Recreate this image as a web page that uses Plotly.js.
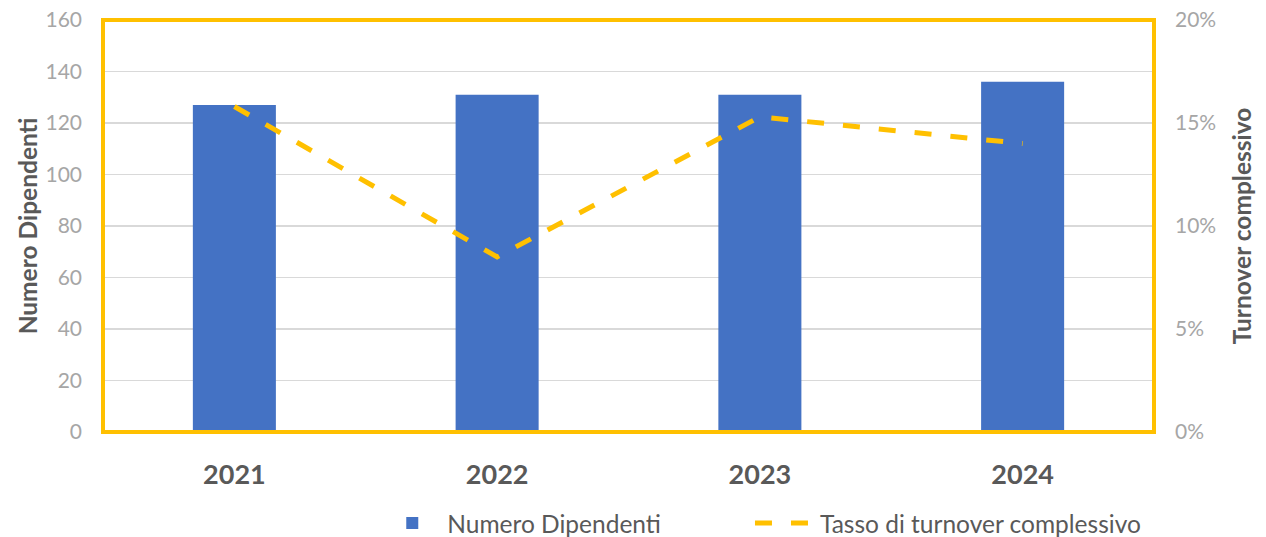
<!DOCTYPE html>
<html>
<head>
<meta charset="utf-8">
<script src="https://cdn.plot.ly/plotly-3.0.1.min.js"></script>
<style>html,body{margin:0;padding:0;background:#fff;}#chart{width:1266px;height:537px;}</style>
</head>
<body>
<div id="chart"></div>
<script>
const years = ["2021", "2022", "2023", "2024"];
const dipendenti = [127, 131, 131, 136];
const turnover = [0.158, 0.085, 0.153, 0.140];
const seriesNames = ["Numero Dipendenti", "Tasso di turnover complessivo"];

const FONT = "Lato, 'Open Sans', sans-serif";

const traces = [
  {
    type: "bar", x: years, y: dipendenti, name: seriesNames[0],
    marker: {color: "#4472C4"}, yaxis: "y", hoverinfo: "x+y", legend: "legend"
  },
  {
    type: "scatter", mode: "lines", x: years, y: turnover, name: seriesNames[1],
    yaxis: "y2", line: {color: "#FFC000", width: 5, dash: "17px,19px"}, legend: "legend2"
  }
];

const legendBase = {
  orientation: "h", xref: "container", yref: "container",
  xanchor: "left", y: 0.026, yanchor: "middle",
  font: {family: FONT, size: 24.5, color: "#595959"},
  itemwidth: 60, bgcolor: "rgba(0,0,0,0)"
};

const layout = {
  width: 1266, height: 537,
  margin: {l: 103, r: 112, t: 20, b: 105, autoexpand: false},
  paper_bgcolor: "#ffffff", plot_bgcolor: "#ffffff",
  font: {family: FONT, color: "#595959"},
  bargap: 0.684,
  showlegend: true,
  legend: Object.assign({}, legendBase, {x: 0.298}),
  legend2: Object.assign({}, legendBase, {x: 0.5924}),
  xaxis: {
    type: "category", showgrid: false, zeroline: false, showline: false,
    ticks: "", tickfont: {family: FONT, size: 27, color: "#595959", weight: "bold"},
    ticklabelstandoff: 24
  },
  yaxis: {
    range: [0, 160], dtick: 20, showgrid: true, gridcolor: "#D9D9D9", gridwidth: 1.5,
    zeroline: false, showline: false, ticks: "",
    tickfont: {family: FONT, size: 21, color: "#A6A6A6"},
    ticklabelstandoff: 20,
    title: {text: "Numero Dipendenti", font: {family: FONT, size: 24.5, color: "#595959", weight: "bold"}, standoff: 0}
  },
  yaxis2: {
    overlaying: "y", side: "right", range: [0, 0.2], dtick: 0.05, tickformat: ".0%",
    showgrid: false, zeroline: false, showline: false, ticks: "",
    tickfont: {family: FONT, size: 21, color: "#A6A6A6"},
    ticklabelstandoff: 20,
    title: {text: "Turnover complessivo", font: {family: FONT, size: 24.5, color: "#595959", weight: "bold"}, standoff: 18}
  },
  shapes: [
    {type: "rect", xref: "paper", yref: "paper", x0: 0, x1: 1, y0: 0, y1: 1,
     line: {color: "#FFC000", width: 4}, fillcolor: "rgba(0,0,0,0)", layer: "above"}
  ]
};

Plotly.newPlot("chart", traces, layout, {displayModeBar: false, staticPlot: true});
</script>
</body>
</html>
